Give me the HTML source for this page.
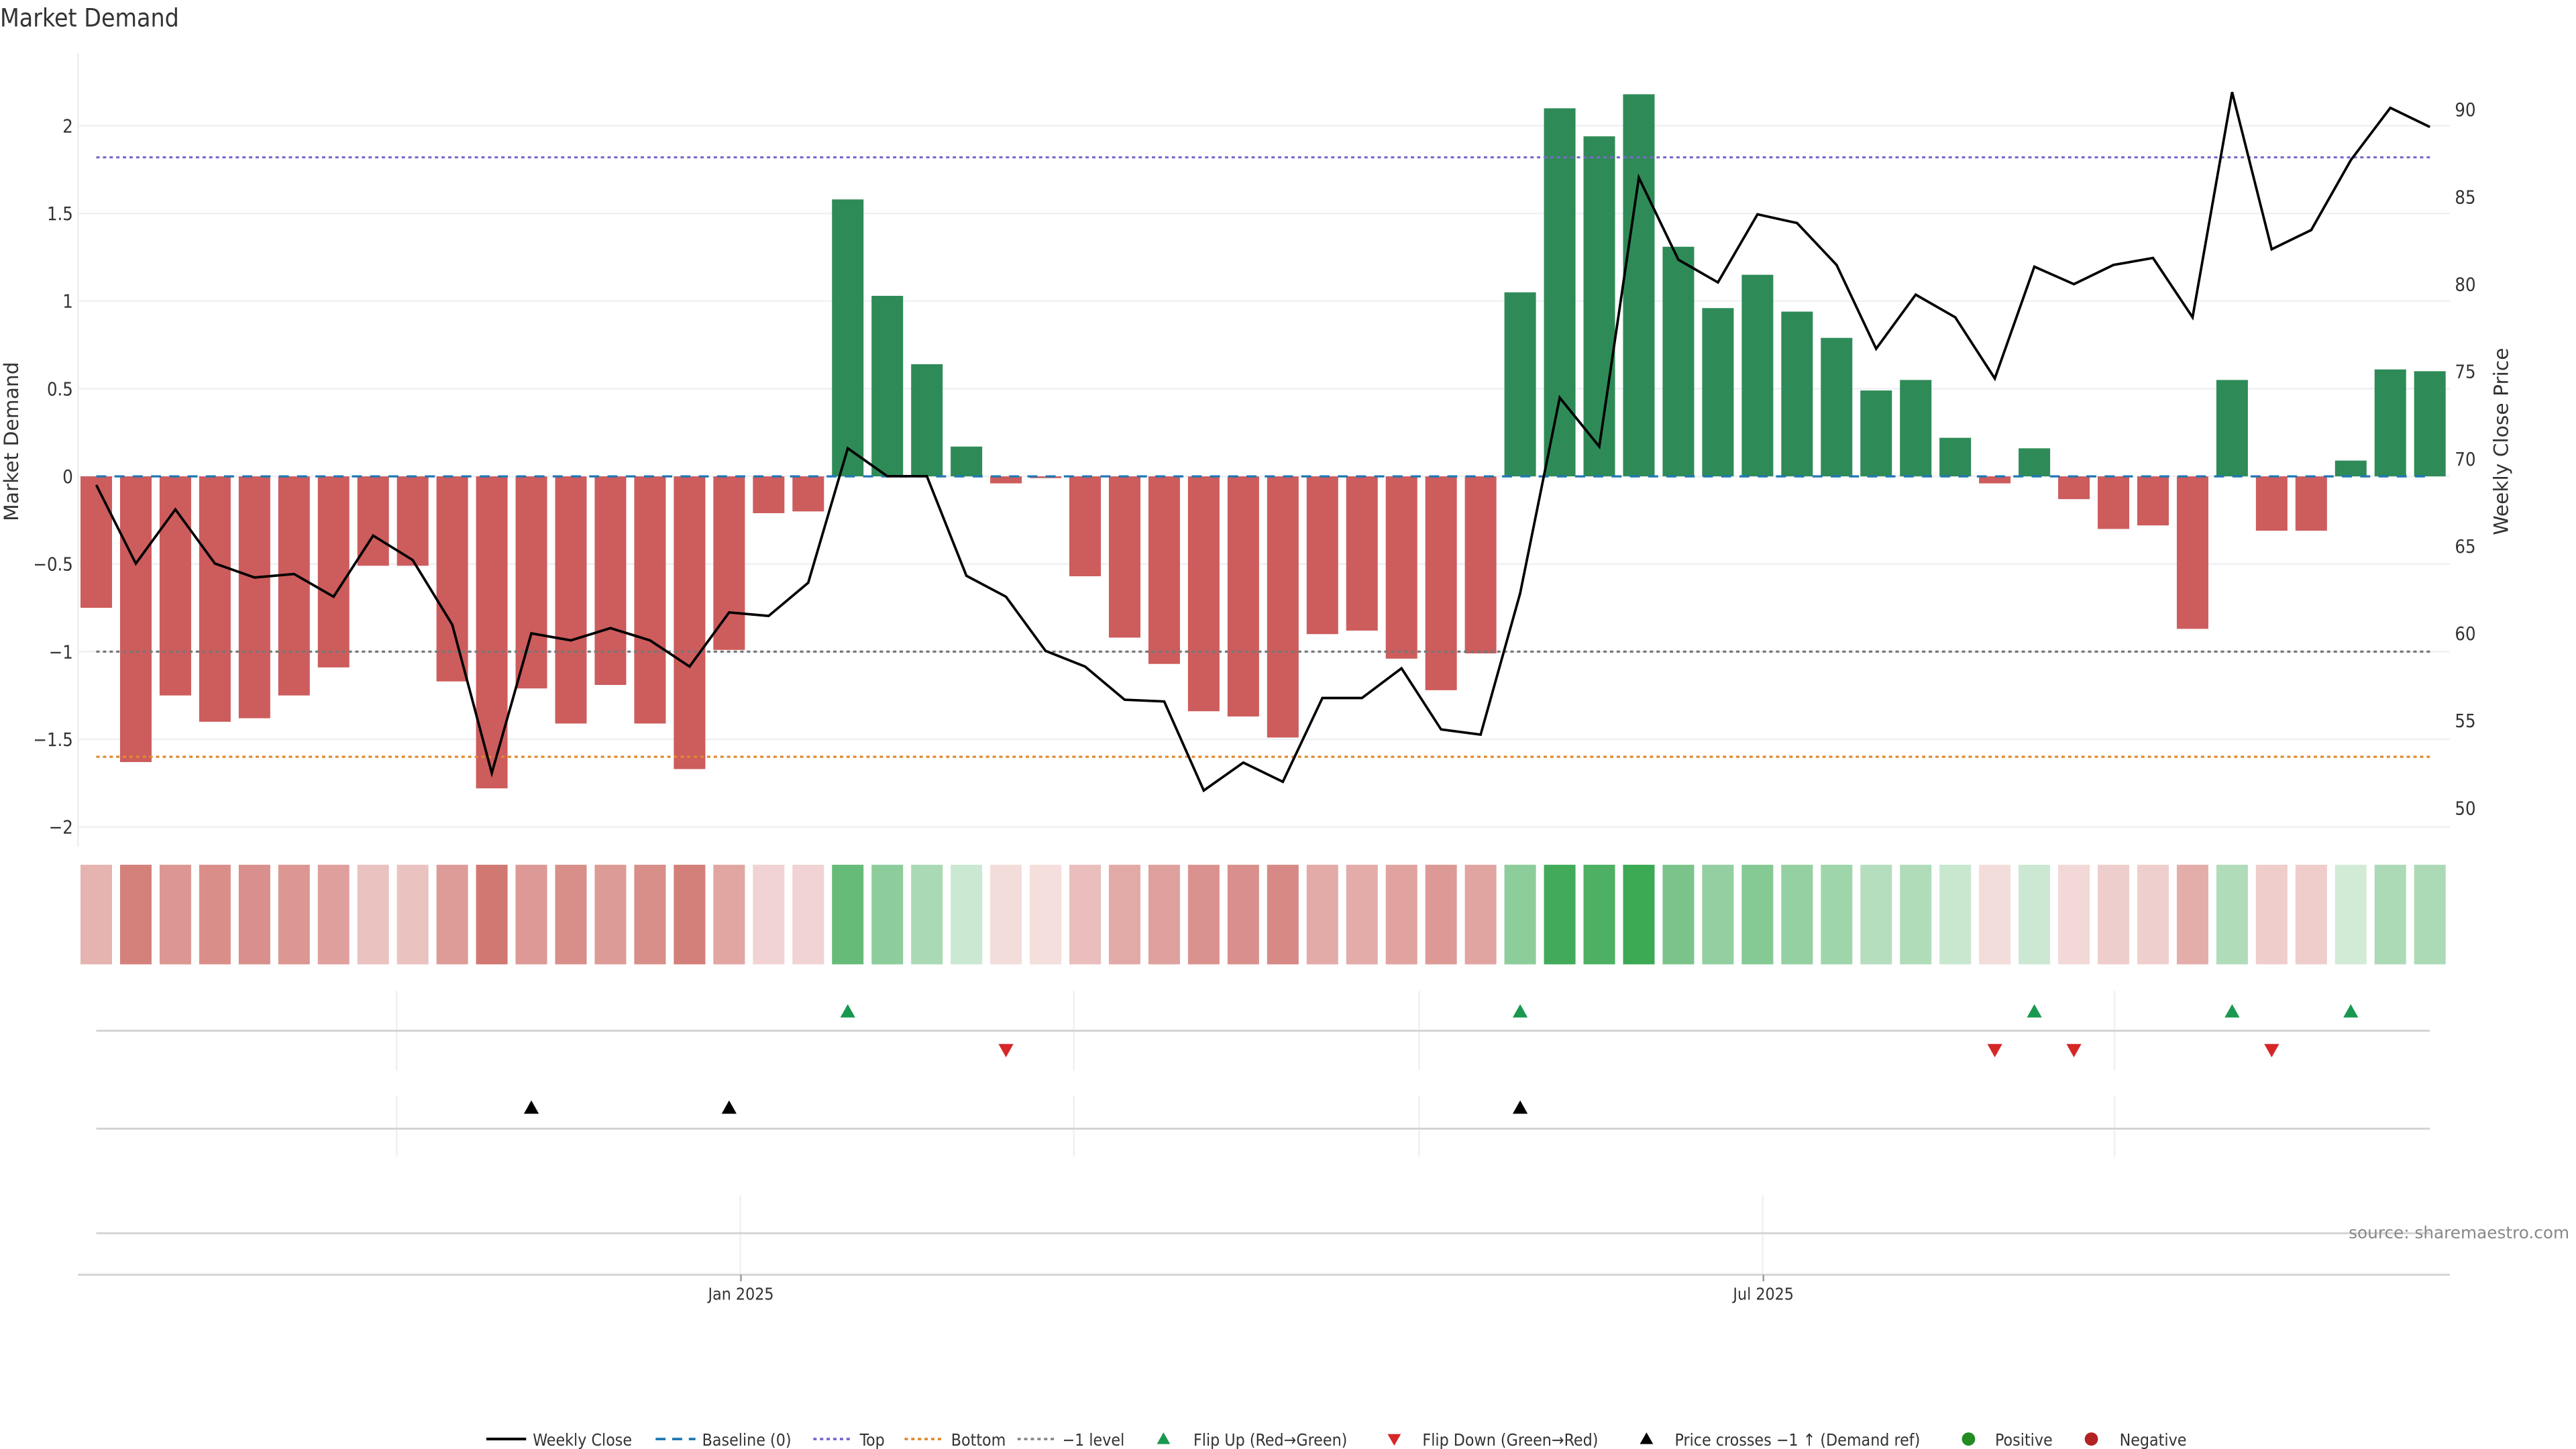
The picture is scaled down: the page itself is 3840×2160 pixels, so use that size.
<!DOCTYPE html>
<html><head><meta charset="utf-8"><style>
html,body{margin:0;padding:0;background:#fff;}
svg{display:block;font-family:"DejaVu Sans","Liberation Sans",sans-serif;}
text{fill:#333;}
</style></head><body>
<svg id="chart" width="3840" height="2160" viewBox="0 0 1552 873" preserveAspectRatio="none" xmlns="http://www.w3.org/2000/svg">
<text x="0" y="16" font-size="15" style="font-stretch:condensed">Market Demand</text>
<g id="grid"></g>
<g id="main"></g>
<g id="heat"></g>
<g id="events"></g>
<g id="legend"></g>
<text x="1548" y="746" font-size="10" text-anchor="end" fill="#888" style="fill:#888">source: sharemaestro.com</text>
</svg>
<script>
const demand=[-0.75,-1.63,-1.25,-1.40,-1.38,-1.25,-1.09,-0.51,-0.51,-1.17,-1.78,-1.21,-1.41,-1.19,-1.41,-1.67,-0.99,-0.21,-0.20,1.58,1.03,0.64,0.17,-0.04,-0.01,-0.57,-0.92,-1.07,-1.34,-1.37,-1.49,-0.90,-0.88,-1.04,-1.22,-1.01,1.05,2.10,1.94,2.18,1.31,0.96,1.15,0.94,0.79,0.49,0.55,0.22,-0.04,0.16,-0.13,-0.30,-0.28,-0.87,0.55,-0.31,-0.31,0.09,0.61,0.60];
const price=[68.5,64.0,67.1,64.0,63.2,63.4,62.1,65.6,64.2,60.5,52.0,60.0,59.6,60.3,59.6,58.1,61.2,61.0,62.9,70.6,69.0,69.0,63.3,62.1,59.0,58.1,56.2,56.1,51.0,52.6,51.5,56.3,56.3,58.0,54.5,54.2,62.3,73.5,70.7,86.1,81.4,80.1,84.0,83.5,81.1,76.3,79.4,78.1,74.6,81.0,80.0,81.1,81.5,78.1,91.0,82.0,83.1,87.1,90.1,89.0];
const flipUp=[19,36,49,54,57];
const flipDown=[23,48,50,55];
const priceCross=[11,16,36];
const leftTicks=[2,1.5,1,0.5,0,-0.5,-1,-1.5,-2];
const leftTickLabels=["2","1.5","1","0.5","0","−0.5","−1","−1.5","−2"];
const rightTicks=[90,85,80,75,70,65,60,55,50];
const levels={top:1.82,bottom:-1.6,minus1:-1};
const dateTicks=[{label:"Jan 2025",idx:16.3},{label:"Jul 2025",idx:42.15}];

const NS="http://www.w3.org/2000/svg";
function mk(tag,attrs,parent,txt){const e=document.createElementNS(NS,tag);for(const k in attrs)e.setAttribute(k,attrs[k]);if(txt!==undefined)e.textContent=txt;parent.appendChild(e);return e;}
const xs=i=>58+i*23.83;
const yL=v=>287-v*105.6;
const yR=p=>66+(90-p)*10.52;
const grid=document.getElementById('grid'),main=document.getElementById('main'),heat=document.getElementById('heat'),ev=document.getElementById('events'),lg=document.getElementById('legend');

let ax=mk('line',{x1:47,y1:32,x2:47,y2:510,stroke:'#eee'},grid);

leftTicks.forEach((t,k)=>{
  let g=mk('line',{x1:47,x2:1476,y1:yL(t),y2:yL(t),stroke:'#eef0f3','stroke-width':1},grid);
  
  let tx=mk('text',{x:44,y:yL(t)+4,'font-size':11,'text-anchor':'end',style:'font-stretch:condensed'},grid,leftTickLabels[k]);
  
});
rightTicks.forEach(t=>{
  let tx=mk('text',{x:1479,y:yR(t)+4,'font-size':11,style:'font-stretch:condensed'},grid,String(t));
  
});
let yt=mk('text',{x:0,y:0,'font-size':12,transform:'translate(11,266) rotate(-90)','text-anchor':'middle'},grid,'Market Demand');

let yt2=mk('text',{x:0,y:0,'font-size':12,transform:'translate(1511,266) rotate(-90)','text-anchor':'middle'},grid,'Weekly Close Price');


demand.forEach((v,i)=>{
  const y0=yL(0),y1=yL(v);
  let r=mk('rect',{x:xs(i)-9.5,width:19,y:Math.min(y0,y1),height:Math.abs(y1-y0),fill:v>=0?'#2e8b57':'#cd5c5c'},main);
  
});
function hline(v,color,dash,name){let l=mk('line',{x1:58,x2:1464,y1:yL(v),y2:yL(v),stroke:color,'stroke-width':1.3,'stroke-dasharray':dash},main);}
hline(0,'#1f77b4','6,5','baseline-line');
hline(levels.top,'#7b68cc','2,2','top-line');
hline(levels.bottom,'#e08a2e','2,2','bottom-line');
hline(levels.minus1,'#777','2,2','minus1-level-line');
let pts=price.map((p,i)=>xs(i)+','+yR(p)).join(' ');
let pl=mk('polyline',{points:pts,fill:'none',stroke:'#000','stroke-width':1.5},main);


demand.forEach((v,i)=>{
  const a=Math.min(1,0.2+0.8*Math.abs(v)/2.2);
  let r=mk('rect',{x:xs(i)-9.5,width:19,y:521,height:60,fill:v>=0?'#3aa853':'#c9605a','fill-opacity':a},heat);
  
});

[[597,645,621],[660,697,680]].forEach(p=>{
  [239,647,855,1274].forEach(x=>{let l=mk('line',{x1:x,x2:x,y1:p[0],y2:p[1],stroke:'#eef0f3'},ev);});
  let b=mk('line',{x1:58,x2:1464,y1:p[2],y2:p[2],stroke:'#d4d4d4','stroke-width':1.2},ev);
});
[446,1062].forEach(x=>{let l=mk('line',{x1:x,x2:x,y1:720,y2:768,stroke:'#eef0f3'},ev);});
let b3=mk('line',{x1:58,x2:1464,y1:743,y2:743,stroke:'#d4d4d4','stroke-width':1.2},ev);
let xa=mk('line',{x1:47,x2:1476,y1:768,y2:768,stroke:'#d4d4d4','stroke-width':1.2},ev);
dateTicks.forEach(d=>{const x=xs(d.idx);
  let t=mk('line',{x1:x,x2:x,y1:768,y2:772,stroke:'#999'},ev);
  let tx=mk('text',{x:x,y:783,'font-size':10,'text-anchor':'middle',style:'font-stretch:condensed'},ev,d.label);
});
function tri(x,y,up,color,name){const p=up?`${x-4.5},${y+4} ${x+4.5},${y+4} ${x},${y-4}`:`${x-4.5},${y-4} ${x+4.5},${y-4} ${x},${y+4}`;let t=mk('polygon',{points:p,fill:color},ev);}
flipUp.forEach(i=>tri(xs(i),609,true,'#1a9850','flip-up-marker'));
flipDown.forEach(i=>tri(xs(i),633,false,'#d62728','flip-down-marker'));
priceCross.forEach(i=>tri(xs(i),667,true,'#000','price-cross-marker'));

const Y=867;
function ltext(x,s){let t=mk('text',{x:x,y:Y+4,'font-size':10,style:'font-stretch:condensed'},lg,s);}
function lline(x,c,d,w){let l=mk('line',{x1:x,x2:x+24,y1:Y,y2:Y,stroke:c,'stroke-width':w,'stroke-dasharray':d},lg);}
lline(293,'#000','',1.6);ltext(321,'Weekly Close');
lline(395,'#1f77b4','6,4',1.5);ltext(423,'Baseline (0)');
lline(490,'#7b68cc','2,2',1.5);ltext(518,'Top');
lline(545,'#e08a2e','2,2',1.5);ltext(573,'Bottom');
lline(613,'#888','2,2',1.5);ltext(640,'−1 level');
let g1=mk('polygon',{points:`${697},${Y+3} ${705},${Y+3} ${701},${Y-4}`,fill:'#1a9850'},lg);ltext(719,'Flip Up (Red→Green)');
let g2=mk('polygon',{points:`${836},${Y-3} ${844},${Y-3} ${840},${Y+4}`,fill:'#d62728'},lg);ltext(857,'Flip Down (Green→Red)');
let g3=mk('polygon',{points:`${988},${Y+3} ${996},${Y+3} ${992},${Y-4}`,fill:'#000'},lg);ltext(1009,'Price crosses −1 ↑ (Demand ref)');
let c1=mk('circle',{cx:1186,cy:Y,r:4,fill:'#228b22'},lg);ltext(1202,'Positive');
let c2=mk('circle',{cx:1260,cy:Y,r:4,fill:'#b22222'},lg);ltext(1277,'Negative');
</script>
</body></html>
